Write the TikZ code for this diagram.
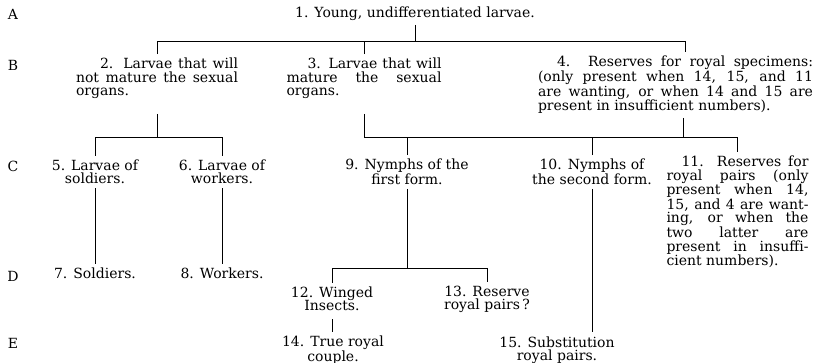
\documentclass[tikz,border=0pt]{standalone}
\usepackage{fontspec}
\setmainfont{DejaVu Serif}
\begin{document}
\begin{tikzpicture}[x=1pt,y=-1pt,line width=0.6pt,
  stage/.style={inner sep=0pt,outer sep=4pt,font=\fontsize{14}{13.5}\selectfont,align=center},
  para/.style={stage,align=justify}]
  \useasboundingbox (0,0) rectangle (821,363);
  \foreach \r/\y in {A/14,B/65,C/166,D/276,E/343}
    \node[stage] (row\r) at (13,\y) {\r};
  \node[stage] (s1) at (415,14) {1. Young, undifferentiated larvae.};
  \node[para,text width=162pt] (s2) at (157,78.5) {\hspace*{24pt}2. Larvae that will\linebreak
    not mature the sexual\linebreak
    organs.};
  \node[para,text width=155pt] (s3) at (364,78.5) {\hspace*{21pt}3. Larvae that will\linebreak
    mature the sexual\linebreak
    organs.};
  \node[para,text width=275pt] (s4) at (675.5,85) {\hspace*{19pt}4. Reserves for royal specimens:\linebreak
    (only present when 14, 15, and 11\linebreak
    are wanting, or when 14 and 15 are\linebreak
    present in insufficient numbers).};
  \node[stage] (s5) at (95,172) {5. Larvae of\\soldiers.};
  \node[stage] (s6) at (222,172) {6. Larvae of\\workers.};
  \node[stage] (s7) at (95,273) {7. Soldiers.};
  \node[stage] (s8) at (222,273) {8. Workers.};
  \node[stage] (s9) at (407,172) {9. Nymphs of the\\first form.};
  \node[stage] (s10) at (592,172) {10. Nymphs of\\the second form.};
  \node[para,text width=142pt] (s11) at (737.5,212) {\hspace*{15pt}11. Reserves for\linebreak
    royal pairs (only\linebreak
    present when 14,\linebreak
    15, and 4 are want-\linebreak
    ing, or when the\linebreak
    two latter are\linebreak
    present in insuffi-\linebreak
    cient numbers).};
  \node[stage] (s12) at (332,299) {12. Winged\\Insects.};
  \node[stage] (s13) at (487,299.5) {13. Reserve\\royal pairs\,?};
  \node[stage] (s14) at (333,350) {14. True royal\\couple.};
  \node[stage] (s15) at (557,350) {15. Substitution\\royal pairs.};
  \coordinate (barB) at (0,41);
  \coordinate (barC) at (0,137);
  \coordinate (barD) at (0,268);
  \coordinate (t4) at ([xshift=10pt]s4.north);
  \coordinate (b4) at ([xshift=8pt]s4.south);
  \draw (s1.south) -- (s1.south |- barB);
  \draw (s2.north) -- (s2.north |- barB) -- (t4 |- barB) -- (t4);
  \draw (s3.north) -- (s3.north |- barB);
  \draw[shorten <=11pt] (s2.south) -- (s2.south |- barC);
  \draw (s5.north) -- (s5.north |- barC) -- (s6.north |- barC) -- (s6.north);
  \draw (s5.south) -- (s5.south |- s7.north);
  \draw (s6.south) -- (s6.south |- s8.north);
  \draw[shorten <=11pt] (s3.south) -- (s3.south |- barC) -- (s11.north |- barC) -- (s11.north);
  \draw (b4) -- (b4 |- barC);
  \draw (s9.north) -- (s9.north |- barC);
  \draw (s10.north) -- (s10.north |- barC);
  \draw (s9.south) -- (s9.south |- barD);
  \draw (s12.north) -- (s12.north |- barD) -- (s13.north |- barD) -- (s13.north);
  \draw[shorten <=4pt] (s12.south) -- (s12.south |- s14.north);
  \draw (s10.south) -- (s10.south |- s15.north);
\end{tikzpicture}
\end{document}
